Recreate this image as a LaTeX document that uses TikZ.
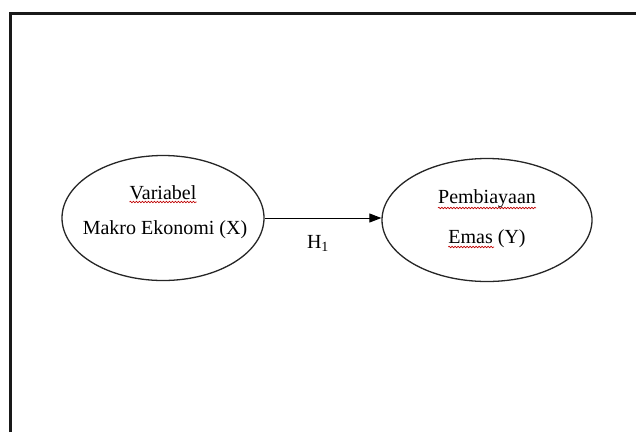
\documentclass[tikz,border=0pt]{standalone}
\usepackage{fontspec}
\setmainfont{Liberation Serif}
\usetikzlibrary{shapes.geometric,arrows.meta,decorations.pathmorphing}
\begin{document}
\begin{tikzpicture}[x=1pt,y=-1pt,
  oval/.style={draw=black!85,line width=1.3pt,ellipse,inner sep=0pt},
  lbl/.style={inner sep=0pt,font=\fontsize{20}{23}\selectfont},
  squig/.style={draw=red!75!black,line width=0.6pt,decorate,decoration={snake,amplitude=0.8pt,segment length=3pt}}]
\useasboundingbox (0,0) rectangle (636,432);
% frame (right and bottom edges cut off)
\draw[line width=3pt,black!90] (10,432) -- (10,13.5) -- (636,13.5);
% ellipses
\node[oval,minimum width=202pt,minimum height=125pt] (x) at (163,218) {};
\node[oval,minimum width=210pt,minimum height=123pt] (y) at (487,220) {};
% texts
\node[lbl,anchor=base] (t1) at (163,199) {Variabel};
\node[lbl,anchor=base] (t2) at (165,234) {Makro Ekonomi (X)};
\node[lbl,anchor=base] (t3) at (487,203) {Pembiayaan};
\node[lbl,anchor=base] (t4) at (487,243) {Emas (Y)};
\node[lbl,anchor=base] (h) at (318,248) {H\textsubscript{1}};
% spell-check squiggles
\draw[squig] ([yshift=-3pt]t1.base west) -- ([yshift=-3pt]t1.base east);
\draw[squig] ([yshift=-5pt]t3.base west) -- ([yshift=-5pt]t3.base east);
\coordinate (e1) at ([yshift=-4pt]t4.base west);
\coordinate (e2) at ([xshift=46pt,yshift=-4pt]t4.base west);
\draw[squig] (e1) -- (e2);
% arrow
\draw[line width=1pt,-{Triangle[length=12pt,width=9pt]}] (x.east) -- (x.east -| y.west);
\end{tikzpicture}
\end{document}
